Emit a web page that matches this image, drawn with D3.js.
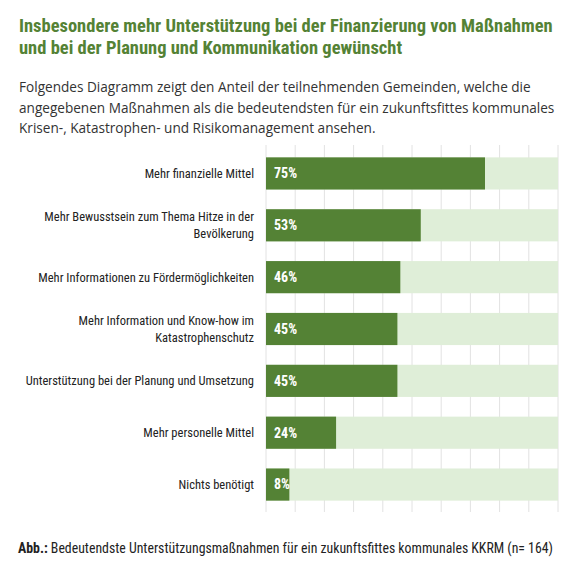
<!DOCTYPE html>
<html><head><meta charset="utf-8">
<script src="https://cdn.jsdelivr.net/npm/d3@7"></script>
<style>
body{margin:0;background:#fff}
.narrow{font-family:"Liberation Sans Narrow","Roboto Condensed","DejaVu Sans Condensed",sans-serif}
</style></head><body>
<script>
const categories = [
  ["Mehr finanzielle Mittel"],
  ["Mehr Bewusstsein zum Thema Hitze in der", "Bevölkerung"],
  ["Mehr Informationen zu Fördermöglichkeiten"],
  ["Mehr Information und Know-how im", "Katastrophenschutz"],
  ["Unterstützung bei der Planung und Umsetzung"],
  ["Mehr personelle Mittel"],
  ["Nichts benötigt"]
];
const values = [75, 53, 46, 45, 45, 24, 8];
const subtitle = [
  "Folgendes Diagramm  zeigt den Anteil der teilnehmenden Gemeinden, welche die",
  "angegebenen  Maßnahmen als die bedeutendsten für ein zukunftsfittes kommunales",
  "Krisen-, Katastrophen- und Risikomanagement  ansehen."
];

const green = "#548235", light = "#dfeed8";
const svg = d3.select("body").append("svg").attr("width", 586).attr("height", 574);

svg.selectAll(".title").data([
  "Insbesondere mehr Unterstützung bei der Finanzierung von Maßnahmen",
  "und bei der Planung und Kommunikation gewünscht"])
  .join("text").attr("class", "narrow")
  .attr("x", 19).attr("y", (d, i) => 32 + i * 22)
  .attr("fill", green).attr("font-weight", "bold").attr("font-size", 18.5)
  .text(d => d);

svg.selectAll(".sub").data(subtitle).join("text")
  .attr("x", 19).attr("y", (d, i) => 92 + i * 20.5)
  .attr("font-family", "Open Sans, sans-serif").attr("font-size", 13.6).attr("fill", "#333")
  .text(d => d);

const x = d3.scaleLinear().domain([0, 100]).range([266, 558]);
const y = d3.scaleBand().domain(d3.range(values.length)).range([147, 511]).paddingInner(0.38).paddingOuter(0.2);

svg.append("g").selectAll("line").data(d3.range(0, 101, 10)).join("line")
  .attr("x1", d => x(d)).attr("x2", d => x(d)).attr("y1", 145).attr("y2", 512)
  .attr("stroke", "#e2e2e2");

const row = svg.append("g").selectAll("g").data(values).join("g");
row.append("rect").attr("x", x(0)).attr("y", (d, i) => y(i))
  .attr("width", x(100) - x(0)).attr("height", y.bandwidth()).attr("fill", light);
row.append("rect").attr("x", x(0)).attr("y", (d, i) => y(i))
  .attr("width", d => x(d) - x(0)).attr("height", y.bandwidth()).attr("fill", green);
row.append("text").attr("class", "narrow").attr("x", x(0) + 8)
  .attr("y", (d, i) => y(i) + y.bandwidth() / 2).attr("dy", "0.35em")
  .attr("fill", "#fff").attr("font-weight", "bold").attr("font-size", 14)
  .text(d => d + "%");

row.each(function (d, i) {
  const lines = categories[i];
  const cy = y(i) + y.bandwidth() / 2;
  d3.select(this).selectAll(".lab").data(lines).join("text").attr("class", "narrow")
    .attr("x", 254).attr("text-anchor", "end").attr("font-size", 12.5).attr("fill", "#222")
    .attr("y", (t, j) => cy + (j - (lines.length - 1) / 2) * 17).attr("dy", "0.35em")
    .text(t => t);
});

const cap = svg.append("text").attr("class", "narrow").attr("x", 18).attr("y", 553)
  .attr("font-size", 13.8).attr("fill", "#222");
cap.append("tspan").attr("font-weight", "bold").text("Abb.:");
cap.append("tspan").text(" Bedeutendste Unterstützungsmaßnahmen für ein zukunftsfittes kommunales KKRM (n= 164)");
</script>
</body></html>
